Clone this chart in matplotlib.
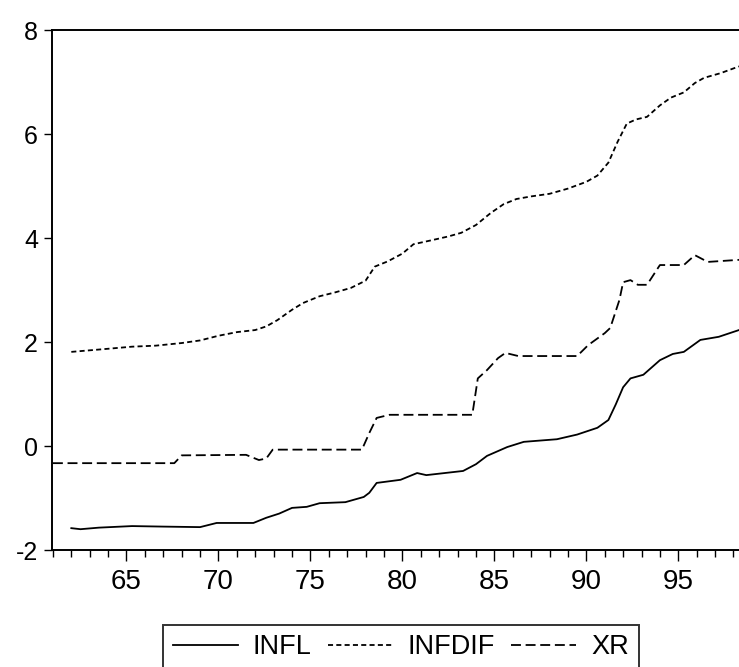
import numpy as np
import matplotlib
matplotlib.use('Agg')
import matplotlib.pyplot as plt
from matplotlib.ticker import MultipleLocator

plt.rcParams['font.family'] = ['Liberation Sans', 'DejaVu Sans']

# INFL (solid)
infl_yr = [62.0, 62.5, 63.5, 65.3, 67.0, 69.0, 69.9, 71.9, 72.6, 73.3, 74.0, 74.8,
           75.5, 76.9, 77.9, 78.2, 78.6, 79.9, 80.8, 81.3, 83.3, 84.0, 84.6, 85.7,
           86.6, 88.4, 89.5, 90.6, 91.2, 91.6, 92.0, 92.4, 93.1, 94.0, 94.7, 95.3,
           96.2, 97.2, 98.3]
infl = [-1.58, -1.60, -1.57, -1.54, -1.55, -1.56, -1.48, -1.48, -1.38, -1.30, -1.19, -1.17,
        -1.10, -1.08, -0.98, -0.90, -0.71, -0.65, -0.52, -0.56, -0.48, -0.35, -0.19, -0.02,
        0.08, 0.13, 0.22, 0.35, 0.50, 0.80, 1.13, 1.30, 1.37, 1.65, 1.77, 1.81,
        2.04, 2.10, 2.23]

# INFDIF (short dashes)
infdif_yr = [62.0, 63.0, 64.0, 65.3, 66.6, 68.0, 69.0, 70.0, 71.0, 72.0, 72.6, 73.2,
             74.0, 74.6, 75.5, 76.3, 77.2, 78.0, 78.5, 79.2, 80.0, 80.6, 81.5, 82.5,
             83.2, 84.0, 84.8, 85.5, 86.2, 87.0, 88.0, 89.0, 90.0, 90.6, 91.2, 91.7,
             92.2, 92.7, 93.3, 94.0, 94.6, 95.3, 95.9, 96.4, 97.3, 98.3]
infdif = [1.81, 1.84, 1.87, 1.91, 1.93, 1.98, 2.03, 2.12, 2.19, 2.23, 2.30, 2.42,
          2.62, 2.75, 2.88, 2.95, 3.04, 3.18, 3.45, 3.55, 3.70, 3.88, 3.95, 4.03,
          4.10, 4.25, 4.48, 4.65, 4.75, 4.80, 4.85, 4.95, 5.08, 5.20, 5.45, 5.85,
          6.20, 6.28, 6.33, 6.55, 6.70, 6.80, 6.98, 7.08, 7.17, 7.30]

# XR (long dashes)
xr_yr = [61.0, 67.6, 68.0, 71.5, 72.2, 72.6, 72.95, 77.8, 78.2, 78.6, 79.3, 83.8,
         84.1, 84.6, 85.2, 85.6, 86.3, 89.5, 90.1, 91.0, 91.3, 91.8, 92.0, 92.4,
         92.8, 93.3, 94.0, 95.3, 95.9, 96.6, 98.3]
xr = [-0.33, -0.33, -0.18, -0.17, -0.27, -0.24, -0.07, -0.07, 0.25, 0.54, 0.60, 0.60,
      1.30, 1.46, 1.69, 1.79, 1.73, 1.73, 1.94, 2.17, 2.27, 2.81, 3.15, 3.19,
      3.10, 3.10, 3.48, 3.48, 3.67, 3.54, 3.58]

yticks = [-2, 0, 2, 4, 6, 8]
xticks = [65, 70, 75, 80, 85, 90, 95]

fig = plt.figure(figsize=(7.39, 6.67), dpi=100)
ax = fig.add_axes([52/739, 117/667, 687/739, 520/667])

lw = 1.3
ax.plot(infl_yr, infl, color='black', lw=lw, label='INFL')
ax.plot(infdif_yr, infdif, color='black', lw=lw, ls=(0, (2.8, 1.8)), label='INFDIF')
ax.plot(xr_yr, xr, color='black', lw=lw, ls=(0, (5.5, 2.6)), label='XR')

ax.set_xlim(60.95, 98.3)
ax.set_ylim(-2, 8)
ax.set_yticks(yticks)
ax.set_yticklabels([str(v) for v in yticks], fontsize=18)
ax.set_xticks(xticks)
ax.set_xticklabels([str(v) for v in xticks], fontsize=20)
ax.xaxis.set_minor_locator(MultipleLocator(1))
ax.tick_params(axis='y', direction='out', length=6, width=1, pad=4)
ax.tick_params(axis='x', which='major', direction='out', length=8, width=1, pad=6)
ax.tick_params(axis='x', which='minor', direction='out', length=5, width=1)
ax.spines['right'].set_visible(False)
for s in ['left', 'top', 'bottom']:
    ax.spines[s].set_linewidth(1.4)

leg = fig.legend(loc='upper center', bbox_to_anchor=(401/739, 1 - 625/667), ncol=3,
                 fontsize=19.5, frameon=True, fancybox=False, edgecolor='black',
                 handlelength=2.4, handletextpad=0.55, columnspacing=0.6,
                 borderpad=0.35, borderaxespad=0)
leg.get_frame().set_linewidth(1.4)

fig.savefig('out.png', dpi=100)
